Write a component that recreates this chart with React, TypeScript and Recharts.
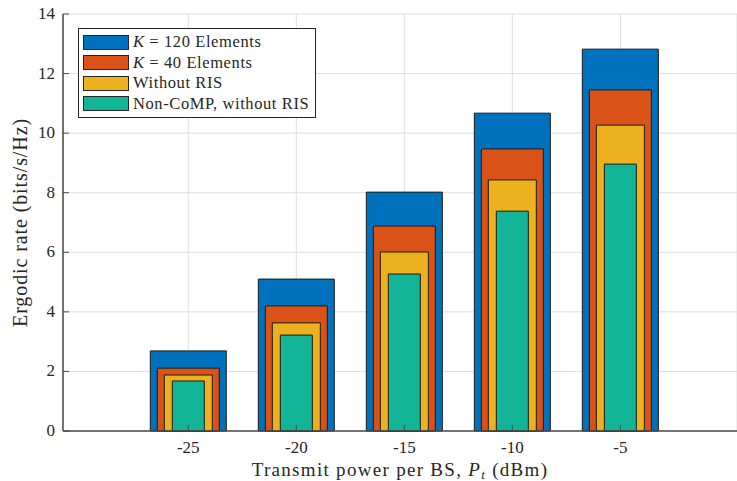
import { BarChart, Bar, XAxis, YAxis, CartesianGrid, Legend } from "recharts";

const powers = [-25, -20, -15, -10, -5];
const k120 = [2.69, 5.1, 8.02, 10.67, 12.82];
const k40 = [2.11, 4.2, 6.88, 9.47, 11.45];
const noRis = [1.88, 3.63, 6.01, 8.43, 10.27];
const nonComp = [1.68, 3.22, 5.27, 7.38, 8.96];
const yTicks = [0, 2, 4, 6, 8, 10, 12, 14];

const data = powers.map((p, i) => ({
  p,
  k120: k120[i],
  k40: k40[i],
  noRis: noRis[i],
  nonComp: nonComp[i],
}));

const series = [
  { key: "k120", axis: "b1", color: "#0072BD", size: 76, k: "120" },
  { key: "k40", axis: "b2", color: "#D95319", size: 62, k: "40" },
  { key: "noRis", axis: "b3", color: "#EDB120", size: 48, label: "Without RIS" },
  { key: "nonComp", axis: "b4", color: "#12B598", size: 32, label: "Non-CoMP, without RIS" },
];

const FONT = "'Liberation Serif', 'Times New Roman', serif";
const INK = "#262626";
const AXIS = "#4a4a4a";
const xDomain = [-30.8, 0.4];

const BottomTick = ({ x, y, payload }: any) => (
  <g>
    <line x1={x} x2={x} y1={y} y2={y - 6} stroke={AXIS} />
    <text x={x} y={y + 22} textAnchor="middle" fontSize={17} fontFamily={FONT} fill={INK}>
      {payload.value}
    </text>
  </g>
);

const TopTick = ({ x, y }: any) => <line x1={x} x2={x} y1={y} y2={y + 6} stroke={AXIS} />;

const LeftTick = ({ x, y, payload }: any) => (
  <g>
    <line x1={x} x2={x + 6} y1={y} y2={y} stroke={AXIS} />
    <text x={x - 8} y={y + 5} textAnchor="end" fontSize={17} fontFamily={FONT} fill={INK}>
      {payload.value}
    </text>
  </g>
);

const renderLegend = () => (
  <div
    style={{
      border: `1px solid ${INK}`,
      background: "#fff",
      padding: "3px 6px 3px 4px",
      fontFamily: FONT,
      fontSize: 16.5,
      letterSpacing: 0.6,
      color: INK,
    }}
  >
    {series.map((s) => (
      <div key={s.key} style={{ display: "flex", alignItems: "center", height: 20.5 }}>
        <div
          style={{
            width: 44,
            height: 13,
            background: s.color,
            border: `1px solid ${INK}`,
            marginRight: 4,
          }}
        />
        {s.k ? (
          <span>
            <i>K</i> = {s.k} Elements
          </span>
        ) : (
          <span>{s.label}</span>
        )}
      </div>
    ))}
  </div>
);

const XLabel = ({ viewBox }: any) => {
  const cx = viewBox.x + viewBox.width / 2;
  return (
    <text
      x={cx}
      y={viewBox.y + 45}
      textAnchor="middle"
      fontSize={19}
      letterSpacing={1.3}
      fontFamily={FONT}
      fill={INK}
    >
      Transmit power per BS, <tspan fontStyle="italic">P</tspan>
      <tspan fontStyle="italic" fontSize={13} dy={3}>t</tspan>
      <tspan dy={-3}> (dBm)</tspan>
    </text>
  );
};

const YLabel = ({ viewBox }: any) => {
  const cy = viewBox.y + viewBox.height / 2;
  return (
    <text
      x={27}
      y={cy}
      transform={`rotate(-90, 27, ${cy})`}
      textAnchor="middle"
      fontSize={20}
      letterSpacing={0.9}
      fontFamily={FONT}
      fill={INK}
    >
      Ergodic rate (bits/s/Hz)
    </text>
  );
};

export default function App() {
  return (
    <div style={{ position: "absolute", left: 0, top: 0 }}>
      <style>{`body{margin:0}`}</style>
      <BarChart
        width={737}
        height={481}
        data={data}
        margin={{ top: 14, right: 0, left: 0, bottom: 0 }}
      >
        <CartesianGrid xAxisId="a" stroke="#dedede" strokeWidth={1} />
        <XAxis
          xAxisId="a"
          dataKey="p"
          type="number"
          domain={xDomain}
          ticks={powers}
          allowDataOverflow
          height={50}
          tickSize={0}
          tickMargin={0}
          tickLine={false}
          axisLine={{ stroke: AXIS, strokeWidth: 1.5 }}
          tick={<BottomTick />}
          label={<XLabel />}
        />
        <XAxis
          xAxisId="top"
          orientation="top"
          dataKey="p"
          type="number"
          domain={xDomain}
          ticks={powers}
          allowDataOverflow
          height={0}
          tickSize={0}
          tickMargin={0}
          tickLine={false}
          axisLine={{ stroke: AXIS, strokeWidth: 1.5 }}
          tick={<TopTick />}
        />
        {series.map((s) => (
          <XAxis
            key={s.axis}
            xAxisId={s.axis}
            dataKey="p"
            type="number"
            domain={xDomain}
            allowDataOverflow
            hide
          />
        ))}
        <YAxis
          width={63}
          domain={[0, 14]}
          ticks={yTicks}
          tickSize={0}
          tickMargin={0}
          tickLine={false}
          axisLine={{ stroke: AXIS, strokeWidth: 1.5 }}
          tick={<LeftTick />}
          label={<YLabel />}
        />
        <Legend
          layout="vertical"
          align="center"
          verticalAlign="middle"
          content={renderLegend}
          wrapperStyle={{ left: 78, top: 28, width: "auto" }}
        />
        {series.map((s) => (
          <Bar
            key={s.key}
            xAxisId={s.axis}
            dataKey={s.key}
            fill={s.color}
            stroke="#1a1a1a"
            strokeWidth={1}
            barSize={s.size}
            isAnimationActive={false}
          />
        ))}
      </BarChart>
    </div>
  );
}
